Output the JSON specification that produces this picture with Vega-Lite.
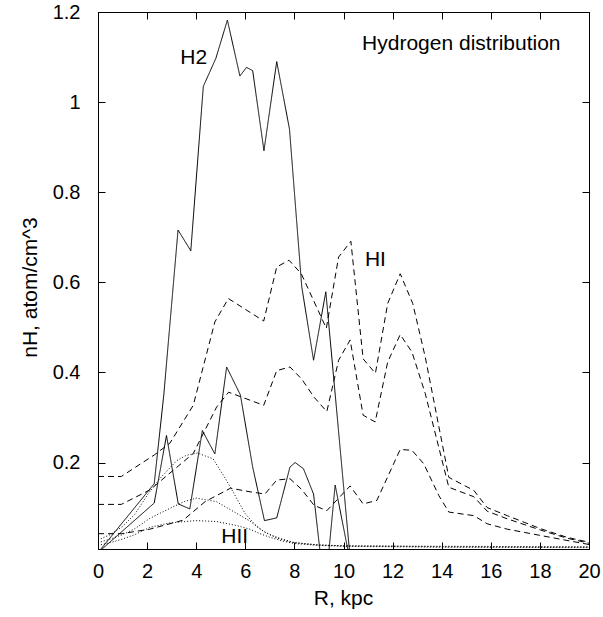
{
  "$schema": "https://vega.github.io/schema/vega-lite/v6.json",
  "width": 491,
  "height": 537,
  "autosize": "none",
  "padding": {"left": 98, "top": 12, "right": 14, "bottom": 68},
  "background": "white",
  "config": {
    "view": {"stroke": "black", "strokeWidth": 1},
    "axis": {
      "labelFont": "Liberation Sans",
      "labelFontSize": 20,
      "labelColor": "black",
      "labelFlush": false,
      "titleFont": "Liberation Sans",
      "titleFontSize": 21,
      "titleFontWeight": "normal",
      "titleColor": "black",
      "domainColor": "black",
      "tickColor": "black",
      "tickSize": -7,
      "grid": false
    }
  },
  "datasets": {
    "curves": [
      {"s": "H2a", "k": "solid", "R": 0, "n": 0},
      {"s": "H2a", "k": "solid", "R": 2.29, "n": 0.153},
      {"s": "H2a", "k": "solid", "R": 2.68, "n": 0.35},
      {"s": "H2a", "k": "solid", "R": 3.26, "n": 0.716},
      {"s": "H2a", "k": "solid", "R": 3.78, "n": 0.67},
      {"s": "H2a", "k": "solid", "R": 4.29, "n": 1.035},
      {"s": "H2a", "k": "solid", "R": 4.8, "n": 1.097},
      {"s": "H2a", "k": "solid", "R": 5.27, "n": 1.182},
      {"s": "H2a", "k": "solid", "R": 5.78, "n": 1.058},
      {"s": "H2a", "k": "solid", "R": 6.05, "n": 1.077},
      {"s": "H2a", "k": "solid", "R": 6.3, "n": 1.07},
      {"s": "H2a", "k": "solid", "R": 6.76, "n": 0.892},
      {"s": "H2a", "k": "solid", "R": 7.28, "n": 1.09},
      {"s": "H2a", "k": "solid", "R": 7.8, "n": 0.94},
      {"s": "H2a", "k": "solid", "R": 8.3, "n": 0.59},
      {"s": "H2a", "k": "solid", "R": 8.78, "n": 0.427},
      {"s": "H2a", "k": "solid", "R": 9.28, "n": 0.579},
      {"s": "H2a", "k": "solid", "R": 10.25, "n": 0},

      {"s": "H2b", "k": "solid", "R": 0, "n": 0},
      {"s": "H2b", "k": "solid", "R": 2.29, "n": 0.11},
      {"s": "H2b", "k": "solid", "R": 2.79, "n": 0.26},
      {"s": "H2b", "k": "solid", "R": 3.27, "n": 0.108},
      {"s": "H2b", "k": "solid", "R": 3.74, "n": 0.097},
      {"s": "H2b", "k": "solid", "R": 4.25, "n": 0.271},
      {"s": "H2b", "k": "solid", "R": 4.76, "n": 0.219},
      {"s": "H2b", "k": "solid", "R": 5.24, "n": 0.412},
      {"s": "H2b", "k": "solid", "R": 5.8, "n": 0.35},
      {"s": "H2b", "k": "solid", "R": 6.3, "n": 0.19},
      {"s": "H2b", "k": "solid", "R": 6.78, "n": 0.071},
      {"s": "H2b", "k": "solid", "R": 7.28, "n": 0.077},
      {"s": "H2b", "k": "solid", "R": 7.82, "n": 0.19},
      {"s": "H2b", "k": "solid", "R": 8.03, "n": 0.2},
      {"s": "H2b", "k": "solid", "R": 8.37, "n": 0.186},
      {"s": "H2b", "k": "solid", "R": 8.78, "n": 0.13},
      {"s": "H2b", "k": "solid", "R": 9.05, "n": 0},
      {"s": "H2b", "k": "solid", "R": 9.4, "n": 0},
      {"s": "H2b", "k": "solid", "R": 9.66, "n": 0.15},
      {"s": "H2b", "k": "solid", "R": 10.2, "n": 0},

      {"s": "HIa", "k": "dashed", "R": 0, "n": 0.169},
      {"s": "HIa", "k": "dashed", "R": 0.95, "n": 0.169},
      {"s": "HIa", "k": "dashed", "R": 2.3, "n": 0.217},
      {"s": "HIa", "k": "dashed", "R": 2.93, "n": 0.243},
      {"s": "HIa", "k": "dashed", "R": 3.88, "n": 0.327},
      {"s": "HIa", "k": "dashed", "R": 4.76, "n": 0.512},
      {"s": "HIa", "k": "dashed", "R": 5.31, "n": 0.564},
      {"s": "HIa", "k": "dashed", "R": 6.75, "n": 0.514},
      {"s": "HIa", "k": "dashed", "R": 7.28, "n": 0.634},
      {"s": "HIa", "k": "dashed", "R": 7.78, "n": 0.649},
      {"s": "HIa", "k": "dashed", "R": 8.28, "n": 0.619},
      {"s": "HIa", "k": "dashed", "R": 9.3, "n": 0.498},
      {"s": "HIa", "k": "dashed", "R": 9.8, "n": 0.656},
      {"s": "HIa", "k": "dashed", "R": 10.3, "n": 0.691},
      {"s": "HIa", "k": "dashed", "R": 10.8, "n": 0.43},
      {"s": "HIa", "k": "dashed", "R": 11.3, "n": 0.398},
      {"s": "HIa", "k": "dashed", "R": 11.8, "n": 0.553},
      {"s": "HIa", "k": "dashed", "R": 12.31, "n": 0.619},
      {"s": "HIa", "k": "dashed", "R": 12.82, "n": 0.553},
      {"s": "HIa", "k": "dashed", "R": 13.33, "n": 0.434},
      {"s": "HIa", "k": "dashed", "R": 14.29, "n": 0.167},
      {"s": "HIa", "k": "dashed", "R": 15.31, "n": 0.138},
      {"s": "HIa", "k": "dashed", "R": 15.85, "n": 0.1},
      {"s": "HIa", "k": "dashed", "R": 16.67, "n": 0.082},
      {"s": "HIa", "k": "dashed", "R": 18.03, "n": 0.053},
      {"s": "HIa", "k": "dashed", "R": 19.1, "n": 0.034},
      {"s": "HIa", "k": "dashed", "R": 20, "n": 0.023},

      {"s": "HIb", "k": "dashed", "R": 0, "n": 0.107},
      {"s": "HIb", "k": "dashed", "R": 0.95, "n": 0.107},
      {"s": "HIb", "k": "dashed", "R": 2.11, "n": 0.139},
      {"s": "HIb", "k": "dashed", "R": 3.88, "n": 0.22},
      {"s": "HIb", "k": "dashed", "R": 4.83, "n": 0.323},
      {"s": "HIb", "k": "dashed", "R": 5.32, "n": 0.356},
      {"s": "HIb", "k": "dashed", "R": 6.75, "n": 0.327},
      {"s": "HIb", "k": "dashed", "R": 7.28, "n": 0.404},
      {"s": "HIb", "k": "dashed", "R": 7.82, "n": 0.412},
      {"s": "HIb", "k": "dashed", "R": 8.3, "n": 0.385},
      {"s": "HIb", "k": "dashed", "R": 8.8, "n": 0.345},
      {"s": "HIb", "k": "dashed", "R": 9.32, "n": 0.313},
      {"s": "HIb", "k": "dashed", "R": 9.8, "n": 0.427},
      {"s": "HIb", "k": "dashed", "R": 10.27, "n": 0.472},
      {"s": "HIb", "k": "dashed", "R": 10.8, "n": 0.305},
      {"s": "HIb", "k": "dashed", "R": 11.29, "n": 0.29},
      {"s": "HIb", "k": "dashed", "R": 11.8, "n": 0.423},
      {"s": "HIb", "k": "dashed", "R": 12.31, "n": 0.484},
      {"s": "HIb", "k": "dashed", "R": 12.79, "n": 0.445},
      {"s": "HIb", "k": "dashed", "R": 13.33, "n": 0.353},
      {"s": "HIb", "k": "dashed", "R": 14.29, "n": 0.145},
      {"s": "HIb", "k": "dashed", "R": 15.31, "n": 0.124},
      {"s": "HIb", "k": "dashed", "R": 15.85, "n": 0.092},
      {"s": "HIb", "k": "dashed", "R": 16.67, "n": 0.075},
      {"s": "HIb", "k": "dashed", "R": 18.03, "n": 0.05},
      {"s": "HIb", "k": "dashed", "R": 19.1, "n": 0.032},
      {"s": "HIb", "k": "dashed", "R": 20, "n": 0.021},

      {"s": "HIc", "k": "dashed", "R": 0, "n": 0.042},
      {"s": "HIc", "k": "dashed", "R": 0.95, "n": 0.042},
      {"s": "HIc", "k": "dashed", "R": 2.11, "n": 0.052},
      {"s": "HIc", "k": "dashed", "R": 3.47, "n": 0.072},
      {"s": "HIc", "k": "dashed", "R": 4.36, "n": 0.113},
      {"s": "HIc", "k": "dashed", "R": 5.4, "n": 0.143},
      {"s": "HIc", "k": "dashed", "R": 6.19, "n": 0.135},
      {"s": "HIc", "k": "dashed", "R": 6.8, "n": 0.13},
      {"s": "HIc", "k": "dashed", "R": 7.28, "n": 0.161},
      {"s": "HIc", "k": "dashed", "R": 7.82, "n": 0.164},
      {"s": "HIc", "k": "dashed", "R": 8.3, "n": 0.14},
      {"s": "HIc", "k": "dashed", "R": 8.8, "n": 0.105},
      {"s": "HIc", "k": "dashed", "R": 9.32, "n": 0.093},
      {"s": "HIc", "k": "dashed", "R": 10.27, "n": 0.148},
      {"s": "HIc", "k": "dashed", "R": 10.8, "n": 0.108},
      {"s": "HIc", "k": "dashed", "R": 11.36, "n": 0.116},
      {"s": "HIc", "k": "dashed", "R": 12.31, "n": 0.229},
      {"s": "HIc", "k": "dashed", "R": 12.79, "n": 0.227},
      {"s": "HIc", "k": "dashed", "R": 13.27, "n": 0.197},
      {"s": "HIc", "k": "dashed", "R": 13.88, "n": 0.127},
      {"s": "HIc", "k": "dashed", "R": 14.29, "n": 0.09},
      {"s": "HIc", "k": "dashed", "R": 15.31, "n": 0.082},
      {"s": "HIc", "k": "dashed", "R": 15.85, "n": 0.064},
      {"s": "HIc", "k": "dashed", "R": 16.67, "n": 0.052},
      {"s": "HIc", "k": "dashed", "R": 18.03, "n": 0.038},
      {"s": "HIc", "k": "dashed", "R": 19.1, "n": 0.027},
      {"s": "HIc", "k": "dashed", "R": 20, "n": 0.018},

      {"s": "HIIa", "k": "dotted", "R": 0, "n": 0.028},
      {"s": "HIIa", "k": "dotted", "R": 0.5, "n": 0.04},
      {"s": "HIIa", "k": "dotted", "R": 1.0, "n": 0.058},
      {"s": "HIIa", "k": "dotted", "R": 1.5, "n": 0.085},
      {"s": "HIIa", "k": "dotted", "R": 2.04, "n": 0.13},
      {"s": "HIIa", "k": "dotted", "R": 2.5, "n": 0.163},
      {"s": "HIIa", "k": "dotted", "R": 3.2, "n": 0.204},
      {"s": "HIIa", "k": "dotted", "R": 3.6, "n": 0.216},
      {"s": "HIIa", "k": "dotted", "R": 4.05, "n": 0.221},
      {"s": "HIIa", "k": "dotted", "R": 4.69, "n": 0.208},
      {"s": "HIIa", "k": "dotted", "R": 5.17, "n": 0.166},
      {"s": "HIIa", "k": "dotted", "R": 5.5, "n": 0.135},
      {"s": "HIIa", "k": "dotted", "R": 6.0, "n": 0.086},
      {"s": "HIIa", "k": "dotted", "R": 6.4, "n": 0.062},
      {"s": "HIIa", "k": "dotted", "R": 6.8, "n": 0.045},
      {"s": "HIIa", "k": "dotted", "R": 7.3, "n": 0.032},
      {"s": "HIIa", "k": "dotted", "R": 7.9, "n": 0.023},
      {"s": "HIIa", "k": "dotted", "R": 8.9, "n": 0.017},
      {"s": "HIIa", "k": "dotted", "R": 10, "n": 0.015},
      {"s": "HIIa", "k": "dotted", "R": 14, "n": 0.014},
      {"s": "HIIa", "k": "dotted", "R": 20, "n": 0.013},

      {"s": "HIIb", "k": "dotted", "R": 0, "n": 0.022},
      {"s": "HIIb", "k": "dotted", "R": 0.5, "n": 0.03},
      {"s": "HIIb", "k": "dotted", "R": 1.0, "n": 0.04},
      {"s": "HIIb", "k": "dotted", "R": 1.5, "n": 0.053},
      {"s": "HIIb", "k": "dotted", "R": 2.11, "n": 0.076},
      {"s": "HIIb", "k": "dotted", "R": 2.92, "n": 0.098},
      {"s": "HIIb", "k": "dotted", "R": 3.5, "n": 0.113},
      {"s": "HIIb", "k": "dotted", "R": 4.0, "n": 0.121},
      {"s": "HIIb", "k": "dotted", "R": 4.83, "n": 0.113},
      {"s": "HIIb", "k": "dotted", "R": 5.65, "n": 0.087},
      {"s": "HIIb", "k": "dotted", "R": 6.19, "n": 0.07},
      {"s": "HIIb", "k": "dotted", "R": 6.6, "n": 0.052},
      {"s": "HIIb", "k": "dotted", "R": 7.0, "n": 0.04},
      {"s": "HIIb", "k": "dotted", "R": 7.5, "n": 0.03},
      {"s": "HIIb", "k": "dotted", "R": 8.0, "n": 0.022},
      {"s": "HIIb", "k": "dotted", "R": 9, "n": 0.017},
      {"s": "HIIb", "k": "dotted", "R": 10, "n": 0.015},
      {"s": "HIIb", "k": "dotted", "R": 14, "n": 0.013},
      {"s": "HIIb", "k": "dotted", "R": 20, "n": 0.012},

      {"s": "HIIc", "k": "dotted", "R": 0, "n": 0.016},
      {"s": "HIIc", "k": "dotted", "R": 0.5, "n": 0.022},
      {"s": "HIIc", "k": "dotted", "R": 1.0, "n": 0.03},
      {"s": "HIIc", "k": "dotted", "R": 1.5, "n": 0.04},
      {"s": "HIIc", "k": "dotted", "R": 2.11, "n": 0.056},
      {"s": "HIIc", "k": "dotted", "R": 2.92, "n": 0.066},
      {"s": "HIIc", "k": "dotted", "R": 4.0, "n": 0.071},
      {"s": "HIIc", "k": "dotted", "R": 4.83, "n": 0.069},
      {"s": "HIIc", "k": "dotted", "R": 5.65, "n": 0.06},
      {"s": "HIIc", "k": "dotted", "R": 6.19, "n": 0.052},
      {"s": "HIIc", "k": "dotted", "R": 6.6, "n": 0.042},
      {"s": "HIIc", "k": "dotted", "R": 7.0, "n": 0.034},
      {"s": "HIIc", "k": "dotted", "R": 7.5, "n": 0.026},
      {"s": "HIIc", "k": "dotted", "R": 8.0, "n": 0.02},
      {"s": "HIIc", "k": "dotted", "R": 9, "n": 0.016},
      {"s": "HIIc", "k": "dotted", "R": 10, "n": 0.014},
      {"s": "HIIc", "k": "dotted", "R": 14, "n": 0.012},
      {"s": "HIIc", "k": "dotted", "R": 20, "n": 0.011}
    ],
    "labels": [
      {"t": "H2", "R": 3.9, "n": 1.097},
      {"t": "HI", "R": 11.3, "n": 0.65},
      {"t": "HII", "R": 5.57, "n": 0.035}
    ],
    "title": [
      {"t": "Hydrogen distribution", "R": 18.84, "n": 1.128}
    ]
  },
  "resolve": {"axis": {"x": "independent", "y": "independent"}},
  "layer": [
    {
      "data": {"name": "curves"},
      "mark": {"type": "line", "clip": true, "strokeWidth": 1, "color": "black"},
      "encoding": {
        "x": {"field": "R", "type": "quantitative",
              "scale": {"domain": [0, 20], "nice": false, "zero": false},
              "axis": {"orient": "bottom", "values": [0,2,4,6,8,10,12,14,16,18,20], "format": "~g",
                       "title": "R, kpc", "labelPadding": 19, "titleBaseline": "middle", "titleX": 245, "titleY": 49}},
        "y": {"field": "n", "type": "quantitative",
              "scale": {"domain": [0.008, 1.2], "nice": false, "zero": false},
              "axis": {"orient": "left", "values": [0.2,0.4,0.6,0.8,1,1.2], "format": "~g",
                       "title": "nH, atom/cm^3", "labelPadding": 25, "titleBaseline": "middle", "titleX": -68, "titleY": 275}},
        "detail": {"field": "s"},
        "strokeDash": {"field": "k", "type": "nominal",
                       "scale": {"domain": ["solid", "dashed", "dotted"], "range": [[1, 0], [6, 4], [1, 2]]},
                       "legend": null}
      }
    },
    {
      "data": {"name": "labels"},
      "mark": {"type": "text", "font": "Liberation Sans", "fontSize": 21, "color": "black", "align": "center", "baseline": "middle"},
      "encoding": {
        "x": {"field": "R", "type": "quantitative",
              "axis": {"orient": "top", "values": [0,2,4,6,8,10,12,14,16,18,20], "labels": false, "title": null, "domain": false}},
        "y": {"field": "n", "type": "quantitative",
              "axis": {"orient": "right", "values": [0.2,0.4,0.6,0.8,1,1.2], "labels": false, "title": null, "domain": false}},
        "text": {"field": "t"}
      }
    },
    {
      "data": {"name": "title"},
      "mark": {"type": "text", "font": "Liberation Sans", "fontSize": 21, "color": "black", "align": "right", "baseline": "middle"},
      "encoding": {
        "x": {"field": "R", "type": "quantitative", "axis": null},
        "y": {"field": "n", "type": "quantitative", "axis": null},
        "text": {"field": "t"}
      }
    }
  ]
}
